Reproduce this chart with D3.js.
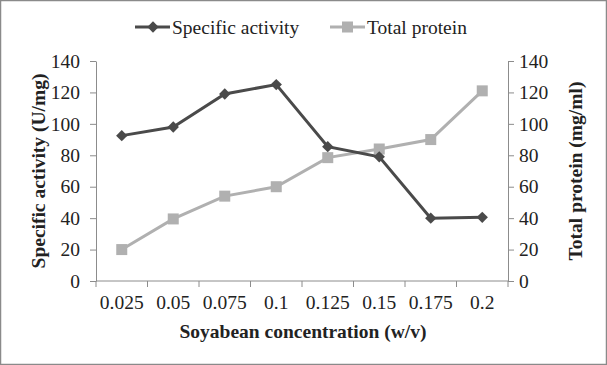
<!DOCTYPE html>
<html>
<head>
<meta charset="utf-8">
<script src="https://cdn.jsdelivr.net/npm/d3@7"></script>
<style>
  html, body { margin: 0; padding: 0; background: #fff; }
  svg { display: block; font-family: "Liberation Serif", "Times New Roman", serif; }
</style>
</head>
<body>
<div id="chart"></div>
<script>
const W = 607, H = 365;
const margin = { top: 61, right: 99, bottom: 84, left: 96 };
const innerW = W - margin.left - margin.right;
const innerH = H - margin.top - margin.bottom;

const concentrations = ['0.025', '0.05', '0.075', '0.1', '0.125', '0.15', '0.175', '0.2'];
const specificActivity = [92.5, 98, 119, 125, 85.5, 79, 40, 40.5];
const totalProtein = [20, 39.5, 54, 60, 78.5, 84, 90, 121];
const yTicks = [0, 20, 40, 60, 80, 100, 120, 140];

const DARK = '#4a4a4a';
const LIGHT = '#b0b0b0';
const AXIS = '#8c8c8c';
const TEXT = '#222';
const FS = '19.5px';

const svg = d3.select('#chart').append('svg')
  .attr('width', W).attr('height', H);

// frame
svg.append('rect')
  .attr('x', 0.5).attr('y', 0.5)
  .attr('width', W - 1).attr('height', H - 1)
  .attr('fill', '#fff').attr('stroke', '#8a8a8a').attr('stroke-width', 1.5);

const g = svg.append('g')
  .attr('transform', `translate(${margin.left},${margin.top})`);

const x = d3.scaleBand().domain(concentrations).range([0, innerW]);
const yL = d3.scaleLinear().domain([0, 140]).range([innerH, 0]);
const yR = d3.scaleLinear().domain([0, 140]).range([innerH, 0]);

function styleAxis(ax) {
  ax.select('.domain').attr('stroke', AXIS);
  ax.selectAll('line').attr('stroke', AXIS);
  ax.selectAll('text').attr('fill', TEXT).style('font-size', FS)
    .style('font-family', '"Liberation Serif", serif');
}

g.append('g')
  .call(d3.axisLeft(yL).tickValues(yTicks).tickSize(6).tickPadding(10).tickSizeOuter(0))
  .call(styleAxis);

g.append('g')
  .attr('transform', `translate(${innerW},0)`)
  .call(d3.axisRight(yR).tickValues(yTicks).tickSize(6).tickPadding(5).tickSizeOuter(0))
  .call(styleAxis);

// x axis: ticks at band boundaries, labels centred in bands
const xAxis = g.append('g').attr('transform', `translate(0,${innerH})`);
xAxis.append('line')
  .attr('x1', 0).attr('x2', innerW)
  .attr('stroke', AXIS);
const bounds = concentrations.map((c) => x(c)).concat([innerW]);
xAxis.selectAll('.xtick').data(bounds).enter().append('line')
  .attr('x1', (d) => d).attr('x2', (d) => d)
  .attr('y1', 0).attr('y2', 6)
  .attr('stroke', AXIS);
xAxis.selectAll('.xlabel').data(concentrations).enter().append('text')
  .attr('x', (d) => x(d) + x.bandwidth() / 2)
  .attr('y', 28)
  .attr('text-anchor', 'middle')
  .attr('fill', TEXT)
  .style('font-size', FS)
  .text((d) => d);

const cx = (i) => x(concentrations[i]) + x.bandwidth() / 2;

const lineL = d3.line().x((d, i) => cx(i)).y((d) => yL(d));
const lineR = d3.line().x((d, i) => cx(i)).y((d) => yR(d));

g.append('path').datum(totalProtein)
  .attr('d', lineR).attr('fill', 'none')
  .attr('stroke', LIGHT).attr('stroke-width', 3);
g.selectAll('.sq').data(totalProtein).enter().append('rect')
  .attr('x', (d, i) => cx(i) - 5.5).attr('y', (d) => yR(d) - 5.5)
  .attr('width', 11).attr('height', 11)
  .attr('fill', LIGHT);

g.append('path').datum(specificActivity)
  .attr('d', lineL).attr('fill', 'none')
  .attr('stroke', DARK).attr('stroke-width', 3);
g.selectAll('.dm').data(specificActivity).enter().append('path')
  .attr('transform', (d, i) => `translate(${cx(i)},${yL(d)}) rotate(45)`)
  .attr('d', d3.symbol().type(d3.symbolSquare).size(64))
  .attr('fill', DARK);

// axis titles
svg.append('text')
  .attr('transform', `translate(45,${margin.top + innerH / 2}) rotate(-90)`)
  .attr('text-anchor', 'middle')
  .attr('font-weight', 'bold').style('font-size', FS).attr('fill', TEXT)
  .text('Specific  activity  (U/mg)');

svg.append('text')
  .attr('transform', `translate(582,${margin.top + innerH / 2}) rotate(-90)`)
  .attr('text-anchor', 'middle')
  .attr('font-weight', 'bold').style('font-size', FS).attr('fill', TEXT)
  .text('Total protein  (mg/ml)');

svg.append('text')
  .attr('x', margin.left + innerW / 2 + 1).attr('y', 338)
  .attr('text-anchor', 'middle')
  .attr('font-weight', 'bold').style('font-size', FS).attr('fill', TEXT)
  .text('Soyabean  concentration  (w/v)');

// legend
const legend = svg.append('g').attr('transform', 'translate(0,27)');
const items = [
  { label: 'Specific activity', color: DARK, shape: 'diamond', x: 135 },
  { label: 'Total protein', color: LIGHT, shape: 'square', x: 330 }
];
items.forEach((it) => {
  const lg = legend.append('g').attr('transform', `translate(${it.x},0)`);
  lg.append('line').attr('x1', 0).attr('x2', 35)
    .attr('stroke', it.color).attr('stroke-width', 3);
  if (it.shape === 'diamond') {
    lg.append('path')
      .attr('transform', 'translate(18,0) rotate(45)')
      .attr('d', d3.symbol().type(d3.symbolSquare).size(64))
      .attr('fill', it.color);
  } else {
    lg.append('rect').attr('x', 12).attr('y', -5.5)
      .attr('width', 11).attr('height', 11).attr('fill', it.color);
  }
  lg.append('text').attr('x', 37).attr('y', 7)
    .attr('fill', TEXT).style('font-size', FS)
    .text(it.label);
});
</script>
</body>
</html>
